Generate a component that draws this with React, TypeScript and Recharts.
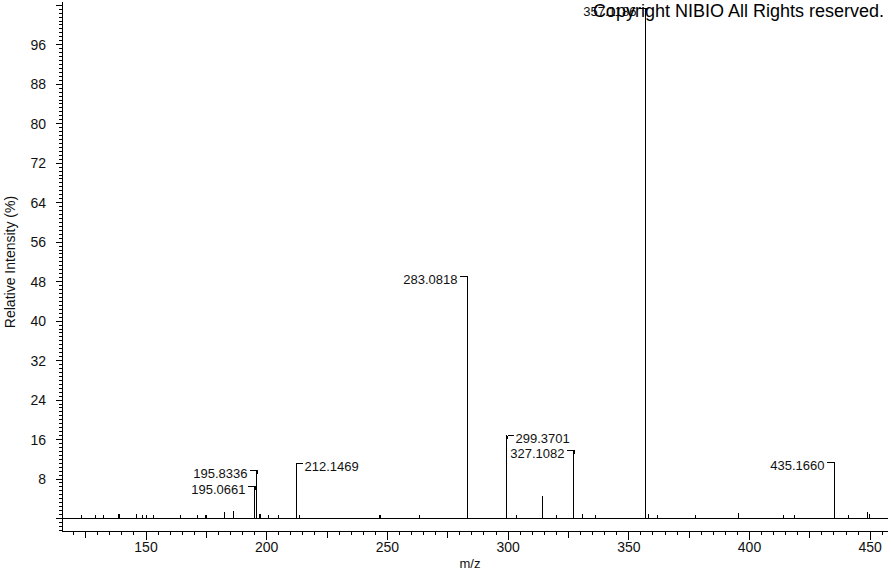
import React from 'react';
import { ComposedChart, Line, XAxis, YAxis, Scatter, ReferenceLine } from 'recharts';

// Peak list: m/z and relative intensity (%)
const peakMz: number[] = [
  123.4, 128.9, 132.3, 138.5, 138.9, 145.9, 146.2, 148.6, 150.0, 153.0,
  164.1, 171.3, 174.7, 175.2, 182.7, 186.2, 195.0661, 195.8336, 197.0, 197.3,
  200.7, 204.8, 212.1469, 213.5, 246.8, 247.3, 263.2, 283.0818, 299.3701, 303.6,
  314.2, 320.1, 327.1082, 330.9, 336.0, 357.1186, 358.1, 361.8, 377.7, 395.4,
  414.0, 418.8, 435.166, 440.9, 448.8, 449.9,
];
const peakIntensity: number[] = [
  0.7, 0.7, 0.7, 0.9, 0.9, 1.0, 1.0, 0.7, 0.7, 0.7,
  0.7, 0.7, 0.8, 0.8, 1.3, 1.5, 3.0, 5.0, 1.0, 1.0,
  0.7, 0.7, 8.0, 0.8, 0.7, 0.7, 0.7, 46.0, 4.4, 0.8,
  4.5, 0.8, 13.9, 0.9, 0.8, 100.0, 1.0, 0.8, 0.8, 1.1,
  0.8, 0.8, 7.8, 0.8, 1.3, 0.9,
];

// Annotated peaks
const labelMz: number[] = [195.0661, 195.8336, 212.1469, 283.0818, 299.3701, 327.1082, 357.1186, 435.166];
const labelText: string[] = ['195.0661', '195.8336', '212.1469', '283.0818', '299.3701', '327.1082', '357.1186', '435.1660'];
const labelPeak: number[] = [3.0, 5.0, 8.0, 46.0, 4.4, 13.9, 100.0, 7.8];
const labelLevel: number[] = [6.6, 9.9, 11.3, 49.2, 16.9, 13.9, 103.5, 11.5];
const labelSide: string[] = ['left', 'left', 'right', 'left', 'right', 'left', 'left', 'left'];

const yTickLabels: number[] = [8, 16, 24, 32, 40, 48, 56, 64, 72, 80, 88, 96];
const xTickLabels: number[] = [150, 200, 250, 300, 350, 400, 450];

const xTicks: number[] = [];
for (let v = 120; v <= 455; v += 5) xTicks.push(v);
const yTicks: number[] = [];
for (let i = -3; i <= 130; i++) yTicks.push(Math.round(i * 8) / 10);

const X_DOMAIN: [number, number] = [115.2, 457.37];
const Y_DOMAIN: [number, number] = [-2.53, 104.66];
const FONT = '"Liberation Sans", Arial, sans-serif';

const stickData = peakMz.flatMap((mz, i) => [
  { mz, v: 0 },
  { mz, v: peakIntensity[i] },
  { mz, v: 0 },
]);

const labelData = labelMz.map((mz, i) => ({
  mz,
  level: labelLevel[i],
  text: labelText[i],
  side: labelSide[i],
}));

const YTick = (props: any) => {
  const { x, y, payload } = props;
  const v = payload.value as number;
  const major = Math.round(v * 10) % 80 === 0;
  const len = major ? 6 : 3;
  const showLabel = yTickLabels.some((t) => Math.abs(t - v) < 1e-6);
  return (
    <g>
      <line x1={x - len} x2={x} y1={y} y2={y} stroke="#000" shapeRendering="crispEdges" />
      {showLabel && (
        <text x={x - 16} y={y + 5} textAnchor="end" fontSize={14} fontFamily={FONT} fill="#111">
          {v}
        </text>
      )}
    </g>
  );
};

const XTick = (props: any) => {
  const { x, y, payload } = props;
  const v = payload.value as number;
  const major = v % 50 === 0;
  const mid = v % 25 === 0;
  const len = major ? 9 : mid ? 7 : 4;
  const showLabel = xTickLabels.includes(v);
  return (
    <g>
      <line x1={x} x2={x} y1={y} y2={y + len} stroke="#000" shapeRendering="crispEdges" />
      {showLabel && (
        <text x={x} y={y + 21} textAnchor="middle" fontSize={14} fontFamily={FONT} fill="#111">
          {v}
        </text>
      )}
    </g>
  );
};

const PeakLabel = (props: any) => {
  const { cx, cy, payload } = props;
  if (cx == null || cy == null) return null;
  const left = payload.side === 'left';
  const x = Math.round(cx) + 0.5;
  const y = Math.round(cy) + 0.5;
  return (
    <g>
      <line x1={left ? x - 8 : x} x2={left ? x : x + 6} y1={y} y2={y} stroke="#000" shapeRendering="crispEdges" />
      <line x1={x} x2={x} y1={y} y2={y + 3} stroke="#000" shapeRendering="crispEdges" />
      <text
        x={left ? x - 10 : x + 8}
        y={y + 7}
        textAnchor={left ? 'end' : 'start'}
        fontSize={13}
        fontFamily={FONT}
        fill="#111"
      >
        {payload.text}
      </text>
    </g>
  );
};

export default function App() {
  return (
    <div style={{ position: 'absolute', left: 0, top: 0, width: 891, height: 573, background: '#fff' }}>
      <ComposedChart
        width={891}
        height={573}
        margin={{ top: 2, right: 3, bottom: 0, left: 0 }}
      >
        <XAxis
          type="number"
          dataKey="mz"
          domain={X_DOMAIN}
          allowDataOverflow
          ticks={xTicks}
          interval={0}
          tick={<XTick />}
          tickLine={false}
          tickSize={0}
          tickMargin={0}
          height={42}
          axisLine={{ stroke: '#000', shapeRendering: 'crispEdges' }}
        />
        <YAxis
          type="number"
          domain={Y_DOMAIN}
          allowDataOverflow
          ticks={yTicks}
          interval={0}
          tick={<YTick />}
          tickLine={false}
          tickSize={0}
          tickMargin={0}
          width={62}
          axisLine={{ stroke: '#000', shapeRendering: 'crispEdges' }}
        />
        <ReferenceLine y={0} stroke="#000" shapeRendering="crispEdges" />
        <Line
          data={stickData}
          dataKey="v"
          type="linear"
          stroke="#000"
          strokeWidth={1}
          dot={false}
          activeDot={false}
          isAnimationActive={false}
          shapeRendering="crispEdges"
        />
        {labelMz.map((mz, i) =>
          labelLevel[i] > labelPeak[i] ? (
            <ReferenceLine
              key={'lead' + i}
              segment={[{ x: mz, y: labelPeak[i] }, { x: mz, y: labelLevel[i] }]}
              stroke="#000"
              shapeRendering="crispEdges"
            />
          ) : null
        )}
        <Scatter data={labelData} dataKey="level" shape={<PeakLabel />} isAnimationActive={false} />
      </ComposedChart>
      <div
        style={{
          position: 'absolute',
          right: 7,
          top: 1,
          fontFamily: FONT,
          fontSize: 18,
          color: '#000',
          whiteSpace: 'nowrap',
          lineHeight: '20px',
        }}
      >
        Copyright NIBIO All Rights reserved.
      </div>
      <div
        style={{
          position: 'absolute',
          left: 0,
          top: 556,
          width: 940,
          textAlign: 'center',
          fontFamily: FONT,
          fontSize: 13,
          color: '#111',
          lineHeight: '16px',
        }}
      >
        m/z
      </div>
      <div
        style={{
          position: 'absolute',
          left: 10,
          top: 262,
          transform: 'translate(-50%, -50%) rotate(-90deg)',
          fontFamily: FONT,
          fontSize: 14,
          color: '#111',
          whiteSpace: 'nowrap',
          lineHeight: '16px',
        }}
      >
        Relative Intensity (%)
      </div>
    </div>
  );
}
